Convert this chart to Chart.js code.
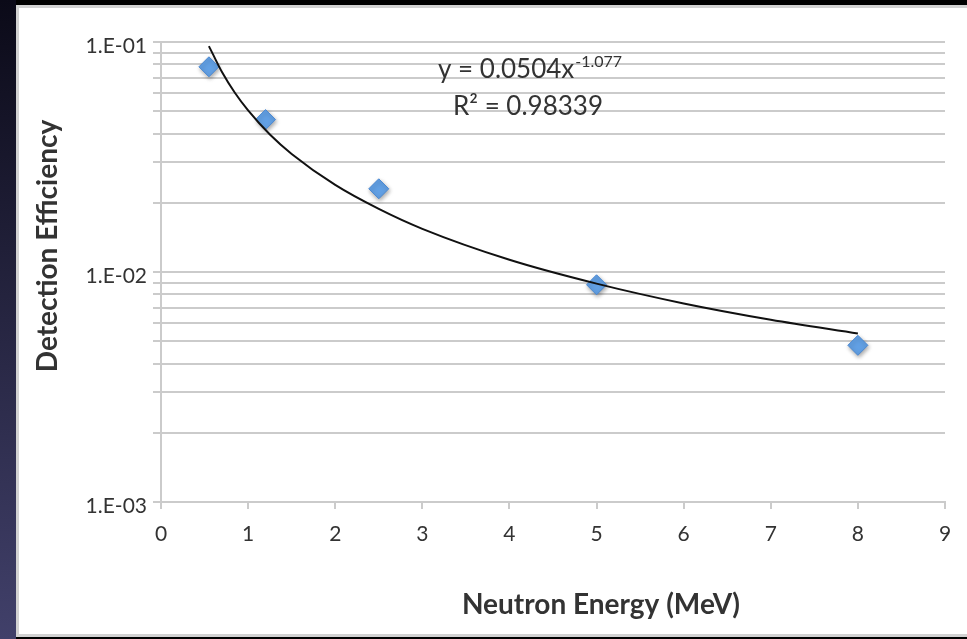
<!DOCTYPE html>
<html><head><meta charset="utf-8">
<script src="https://cdn.jsdelivr.net/npm/chart.js@4/dist/chart.umd.min.js"></script>
<style>
html,body{margin:0;padding:0;background:#000;width:967px;height:639px;overflow:hidden}
#strip{position:absolute;left:0;top:0;width:16px;height:639px;background:linear-gradient(#0b0a18,#41406a)}
#panel{position:absolute;left:16px;top:5px;width:951px;height:632px;background:#fff;box-sizing:border-box;border:3px solid #d2d2d2;border-right:none}
#wrap{position:absolute;left:0;top:0;width:967px;height:639px}
</style></head><body>
<div id="strip"></div><div id="panel"></div>
<div id="wrap"><canvas id="c" width="967" height="639"></canvas></div>
<script>
// ---- data ----
const energies = [0.55, 1.2, 2.5, 5, 8];                       // MeV
const efficiencies = [0.078, 0.046, 0.023, 0.0088, 0.0048];
// power-law trend line as drawn in the picture (estimated points along it)
const trendX = [0.55, 0.7, 0.85, 1, 1.25, 1.5, 2, 2.5, 3, 4, 5, 6, 7, 8];
const trendY = [0.096, 0.074, 0.060, 0.0504, 0.0396, 0.0326, 0.0239, 0.0188, 0.0154, 0.0113, 0.0089, 0.0073, 0.0062, 0.0054];
const xTickValues = [0, 1, 2, 3, 4, 5, 6, 7, 8, 9];
const yTickValues = [0.001, 0.002, 0.003, 0.004, 0.005, 0.006, 0.007, 0.008, 0.009,
                     0.01, 0.02, 0.03, 0.04, 0.05, 0.06, 0.07, 0.08, 0.09, 0.1];
const yTickLabels = ['1.E-03', '', '', '', '', '', '', '', '',
                     '1.E-02', '', '', '', '', '', '', '', '', '1.E-01'];
const xTitle = 'Neutron Energy (MeV)';
const yTitle = 'Detection Efficiency';
const eqMain = 'y = 0.0504x';
const eqExp = '-1.077';
const r2Text = 'R² = 0.98339';

const FONT = 'Lato';
const TXT = '#333333';
const GRID = '#cbcbcb';

const overlay = {
  id: 'overlay',
  beforeDatasetDraw(chart, args) {
    if (args.index === 1) {
      const c = chart.ctx; c.save();
      c.shadowColor = 'rgba(0,0,0,0.35)'; c.shadowBlur = 4; c.shadowOffsetX = 1; c.shadowOffsetY = 2;
    }
  },
  afterDatasetDraw(chart, args) {
    if (args.index === 1) chart.ctx.restore();
  },
  afterDraw(chart) {
    const c = chart.ctx;
    c.save();
    c.fillStyle = TXT;
    c.textBaseline = 'alphabetic';
    c.textAlign = 'left';
    c.font = '26px ' + FONT;
    c.fillText(eqMain, 438, 78);
    const w = c.measureText(eqMain).width;
    c.font = '16px ' + FONT;
    c.fillText(eqExp, 438 + w + 1, 67);
    c.font = '26px ' + FONT;
    c.fillText(r2Text, 453, 115);
    // axis titles
    c.font = 'bold 28px ' + FONT;
    c.textAlign = 'center';
    c.textBaseline = 'alphabetic';
    c.fillText(xTitle, 601, 614);
    c.translate(57, 246);
    c.rotate(-Math.PI / 2);
    c.fillText(yTitle, 0, 0);
    c.restore();
  }
};

new Chart(document.getElementById('c'), {
  type: 'scatter',
  data: {
    datasets: [
      {
        label: 'Trend',
        data: trendX.map((x, i) => ({x, y: trendY[i]})),
        showLine: true,
        borderColor: '#111111',
        borderWidth: 2,
        pointRadius: 0,
        cubicInterpolationMode: 'monotone'
      },
      {
        label: 'Efficiency',
        data: energies.map((x, i) => ({x, y: efficiencies[i]})),
        pointStyle: 'rectRot',
        pointRadius: 10,
        backgroundColor: '#62a0e4',
        borderColor: '#4a88d2',
        borderWidth: 1
      }
    ]
  },
  options: {
    responsive: false,
    animation: false,
    devicePixelRatio: 1,
    layout: {padding: {left: 0, top: 42, right: 22, bottom: 0}},
    plugins: {legend: {display: false}, tooltip: {enabled: false}},
    scales: {
      x: {
        type: 'linear', min: 0, max: 9,
        afterBuildTicks: s => { s.ticks = xTickValues.map(v => ({value: v})); },
        afterFit: s => { s.height = 137; },
        grid: {drawOnChartArea: false, drawTicks: true, tickLength: 7, color: GRID, lineWidth: 2},
        border: {color: GRID, width: 2},
        ticks: {color: TXT, font: {family: FONT, size: 21}, padding: 13, maxRotation: 0}
      },
      y: {
        type: 'logarithmic', min: 0.001, max: 0.1,
        afterBuildTicks: s => { s.ticks = yTickValues.map(v => ({value: v})); },
        afterFit: s => { s.width = 161; },
        grid: {color: GRID, lineWidth: 2, tickLength: 8},
        border: {color: GRID, width: 2},
        ticks: {color: TXT, font: {family: FONT, size: 21}, padding: 6, labelOffset: 4,
                autoSkip: false,
                callback: (v, i) => yTickLabels[i]}
      }
    }
  },
  plugins: [overlay]
});
</script>
</body></html>
